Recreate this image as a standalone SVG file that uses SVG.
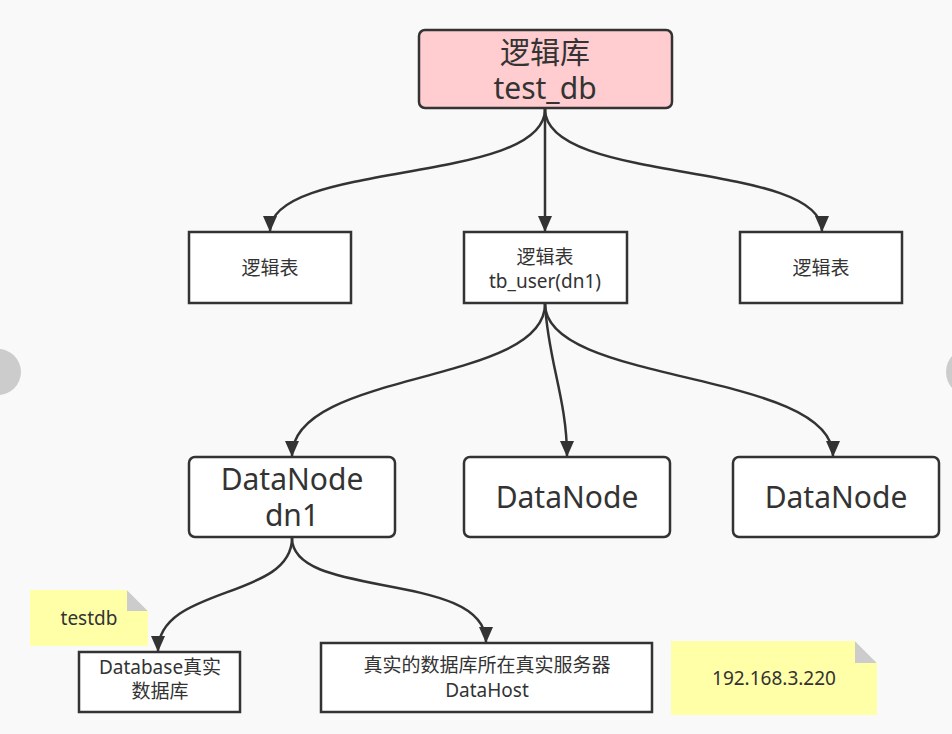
<svg xmlns="http://www.w3.org/2000/svg" width="952" height="734" viewBox="0 0 952 734">
<style>
.box{fill:#ffffff;stroke:#333333;stroke-width:2.5}
.t{font-family:"Noto Sans","Noto Sans CJK SC",sans-serif;fill:#333333;text-anchor:middle}
.s16{font-size:19px}
.s28{font-size:30px}
.edge{fill:none;stroke:#333333;stroke-width:2.5}
.note{fill:#ffffa8}
.fold{fill:#cccccc}
</style>
<defs>
<marker id="arr" viewBox="0 0 16 14" refX="15" refY="7" markerWidth="16" markerHeight="14" orient="auto" markerUnits="userSpaceOnUse">
<path d="M0,0 L16,7 L0,14 Z" fill="#333333"/>
</marker>
</defs>
<rect width="952" height="734" fill="#f9f9f9"/>
<circle cx="-2" cy="372" r="23" fill="#cccccc"/>
<circle cx="970" cy="372" r="24" fill="#cccccc"/>
<g id="connectors">
<path class="edge" marker-end="url(#arr)" d="M545,109 C545,185 270,160 270,231"/>
<path class="edge" marker-end="url(#arr)" d="M545,109 L545,231"/>
<path class="edge" marker-end="url(#arr)" d="M545,109 C545,185 822,160 822,231"/>
<path class="edge" marker-end="url(#arr)" d="M545,304 C545,385 292,370 292,456"/>
<path class="edge" marker-end="url(#arr)" d="M545,304 C548,360 567,400 567,456"/>
<path class="edge" marker-end="url(#arr)" d="M545,304 C545,385 833,370 833,456"/>
<path class="edge" marker-end="url(#arr)" d="M292,538 C292,600 158,585 158,651"/>
<path class="edge" marker-end="url(#arr)" d="M292,538 C292,600 486,570 486,642"/>
</g>
<g id="n-testdb-logic">
<rect x="419" y="30" width="253" height="78" rx="6" fill="#ffccd0" stroke="#333333" stroke-width="2.5"/>
<text class="t s28" x="545" y="63">逻辑库</text>
<text class="t s28" x="545" y="99">test_db</text>
</g>
<g id="n-table-left">
<rect class="box" x="189" y="232" width="162" height="71"/>
<text class="t s16" x="270" y="275">逻辑表</text>
</g>
<g id="n-table-mid">
<rect class="box" x="464" y="232" width="163" height="71"/>
<text class="t s16" x="545" y="264">逻辑表</text>
<text class="t s16" x="545" y="288">tb_user(dn1)</text>
</g>
<g id="n-table-right">
<rect class="box" x="740" y="232" width="162" height="71"/>
<text class="t s16" x="821" y="275">逻辑表</text>
</g>
<g id="n-dn1">
<rect class="box" x="189" y="457" width="206" height="80" rx="6"/>
<text class="t s28" x="292" y="490">DataNode</text>
<text class="t s28" x="292" y="526">dn1</text>
</g>
<g id="n-dn2">
<rect class="box" x="464" y="457" width="206" height="80" rx="6"/>
<text class="t s28" x="567" y="508">DataNode</text>
</g>
<g id="n-dn3">
<rect class="box" x="733" y="457" width="206" height="80" rx="6"/>
<text class="t s28" x="836" y="508">DataNode</text>
</g>
<g id="n-note-testdb">
<path class="note" d="M30,590 L127,590 L148,611 L148,646 L30,646 Z"/>
<path class="fold" d="M127,590 L148,611 L127,611 Z"/>
<path d="M127,590 L148,611 L148,590 Z" fill="#f9f9f9"/>
<text class="t s16" x="89" y="625">testdb</text>
</g>
<g id="n-database">
<rect class="box" x="79" y="652" width="161" height="60"/>
<text class="t s16" x="160" y="674">Database真实</text>
<text class="t s16" x="160" y="698">数据库</text>
</g>
<g id="n-datahost">
<rect class="box" x="321" y="643" width="331" height="69"/>
<text class="t s16" x="487" y="672">真实的数据库所在真实服务器</text>
<text class="t s16" x="487" y="697">DataHost</text>
</g>
<g id="n-note-ip">
<path class="note" d="M671,641 L855,641 L877,663 L877,715 L671,715 Z"/>
<path class="fold" d="M855,641 L877,663 L855,663 Z"/>
<path d="M855,641 L877,663 L877,641 Z" fill="#f9f9f9"/>
<text class="t s16" x="774" y="685">192.168.3.220</text>
</g>
</svg>
